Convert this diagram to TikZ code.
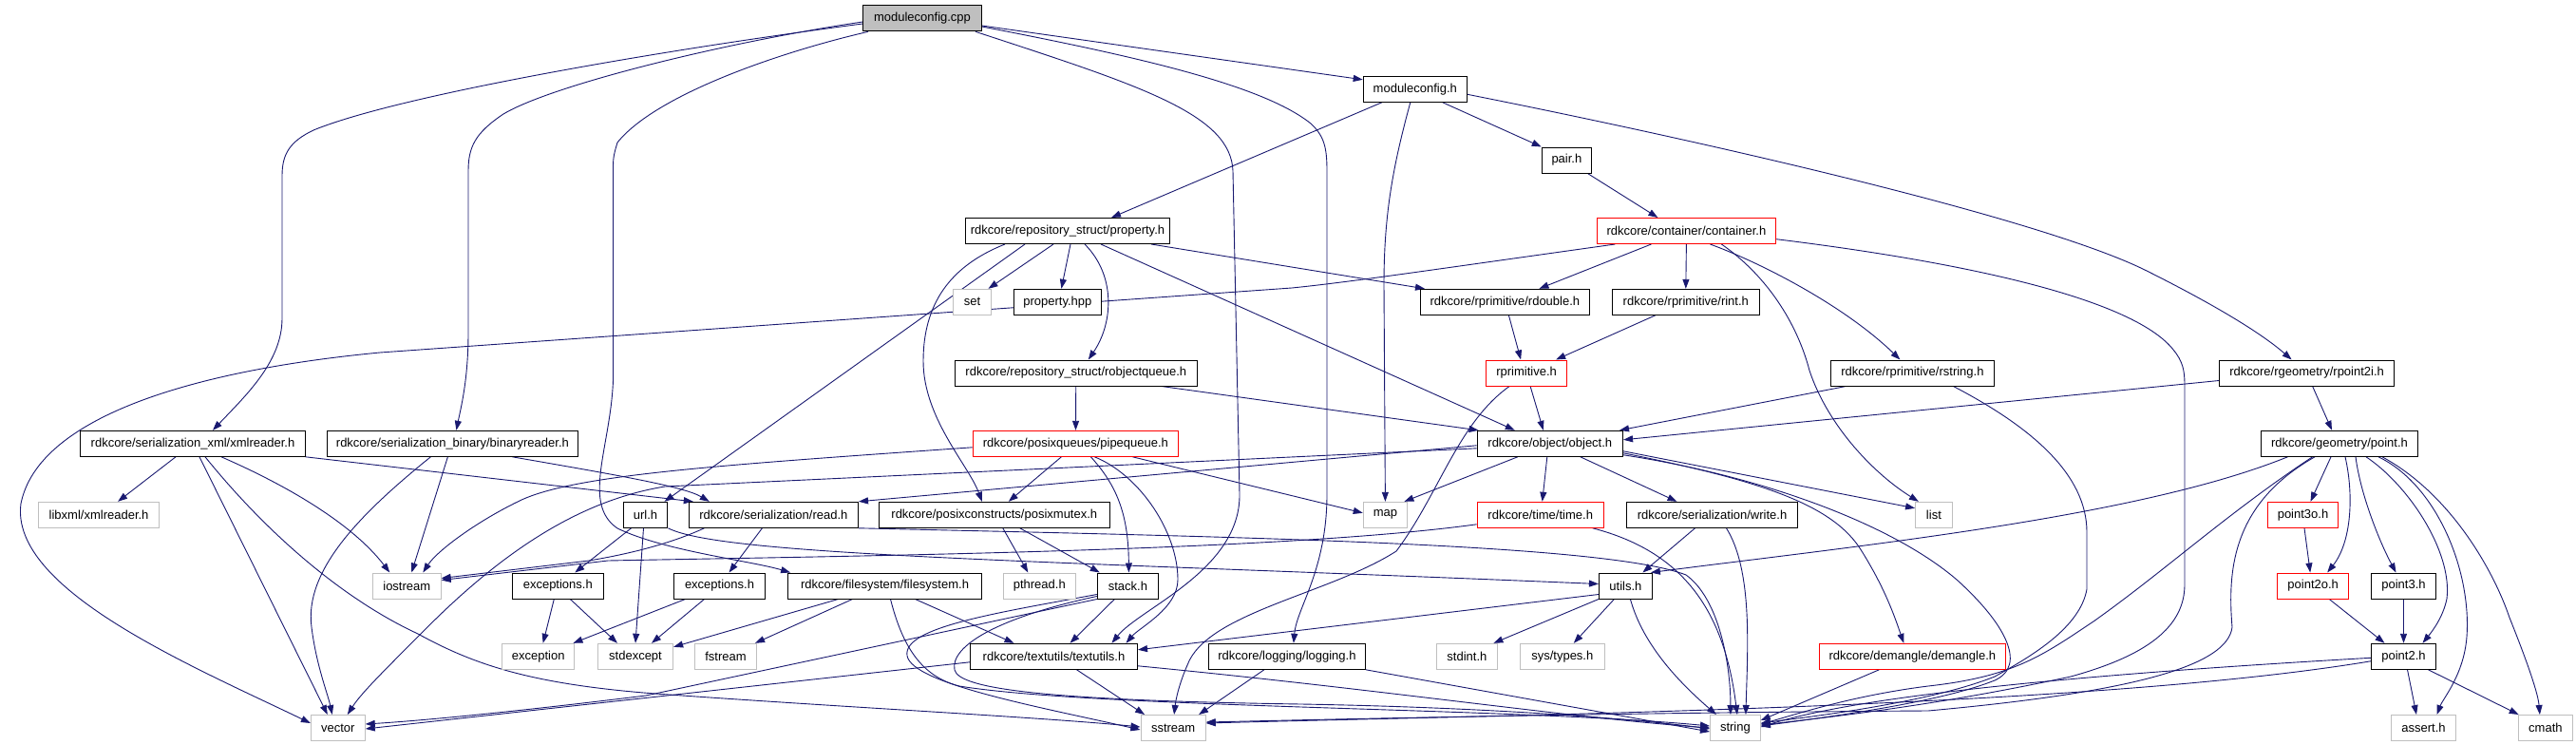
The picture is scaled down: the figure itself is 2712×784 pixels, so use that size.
\documentclass[tikz,border=0pt]{standalone}
\usepackage{fontspec}
\newfontfamily\nodefont{Liberation Sans}
\usetikzlibrary{arrows.meta}
\pgfdeclarelayer{background}
\pgfsetlayers{background,main}
\definecolor{edgec}{HTML}{191970}
\definecolor{grayc}{HTML}{BFBFBF}
\definecolor{redc}{HTML}{FF0000}
\tikzset{
  nd/.style={draw=black, fill=white, line width=1pt, minimum height=27pt, inner sep=0pt, font=\nodefont\fontsize{13}{15}\selectfont},
  gnd/.style={nd, draw=grayc},
  rnd/.style={nd, draw=redc},
  rootnd/.style={nd, fill=grayc},
  edg/.style={draw=edgec, line width=0.9pt, -{Triangle[length=10pt,width=7pt]}}
}
\begin{document}
\begin{tikzpicture}[x=1pt,y=-1pt]
\path[use as bounding box] (0,0) rectangle (2712,784);
% nodes
\node[rootnd, minimum width=124.6pt, minimum height=27.7pt] (mcpp) at (971,19) {moduleconfig.cpp};
\node[nd, minimum width=109.2pt] (mch) at (1489.8,93.8) {moduleconfig.h};
\node[nd, minimum width=52.3pt] (pair) at (1649.4,168.5) {pair.h};
\node[rnd, minimum width=188.4pt] (cont) at (1775.4,243) {rdkcore/container/container.h};
\node[nd, minimum width=214.8pt] (prop) at (1124,243) {rdkcore/repository\_struct/property.h};
\node[gnd, minimum width=40.1pt] (set) at (1023.5,317.8) {set};
\node[nd, minimum width=92.4pt] (phpp) at (1113.4,317.8) {property.hpp};
\node[nd, minimum width=254.4pt] (robjq) at (1132.8,392.5) {rdkcore/repository\_struct/robjectqueue.h};
\node[rnd, minimum width=216.5pt] (pq) at (1132.4,466.8) {rdkcore/posixqueues/pipequeue.h};
\node[nd, minimum width=177.8pt] (rdouble) at (1584.4,317.8) {rdkcore/rprimitive/rdouble.h};
\node[nd, minimum width=154.5pt] (rint) at (1774.8,317.8) {rdkcore/rprimitive/rint.h};
\node[rnd, minimum width=85pt] (rprim) at (1607.1,392.5) {rprimitive.h};
\node[nd, minimum width=172.4pt] (rstring) at (2013.4,392.5) {rdkcore/rprimitive/rstring.h};
\node[nd, minimum width=153.5pt] (object) at (1631.8,466.8) {rdkcore/object/object.h};
\node[nd, minimum width=183.9pt] (rp2i) at (2428.6,392.5) {rdkcore/rgeometry/rpoint2i.h};
\node[nd, minimum width=164.8pt] (point) at (2463,466.8) {rdkcore/geometry/point.h};
\node[nd, minimum width=236.3pt] (xmlr) at (203,466.8) {rdkcore/serialization\_xml/xmlreader.h};
\node[nd, minimum width=263.6pt] (binr) at (476.4,466.8) {rdkcore/serialization\_binary/binaryreader.h};
\node[gnd, minimum width=127.2pt] (libxml) at (104.1,541.8) {libxml/xmlreader.h};
\node[nd, minimum width=46.8pt] (url) at (679.5,541.8) {url.h};
\node[gnd, minimum width=71.7pt] (iostream) at (428.3,616.5) {iostream};
\node[nd, minimum width=95.5pt] (exc1) at (587.3,616.5) {exceptions.h};
\node[gnd, minimum width=76.5pt] (exception) at (566.7,690.8) {exception};
\node[gnd, minimum width=79.3pt] (stdexcept) at (669,690.8) {stdexcept};
\node[gnd, minimum width=56.8pt] (vector) at (355.8,766) {vector};
\node[nd, minimum width=178.2pt] (read) at (814.4,541.8) {rdkcore/serialization/read.h};
\node[nd, minimum width=243.4pt] (pmutex) at (1046.8,541.8) {rdkcore/posixconstructs/posixmutex.h};
\node[nd, minimum width=95.9pt] (exc2) at (757.5,616.5) {exceptions.h};
\node[nd, minimum width=203.8pt] (fs) at (931.5,616.5) {rdkcore/filesystem/filesystem.h};
\node[gnd, minimum width=76.2pt] (pthread) at (1094.3,616.5) {pthread.h};
\node[nd, minimum width=64.3pt] (stack) at (1187.4,616.5) {stack.h};
\node[gnd, minimum width=65.1pt] (fstream) at (764,690.8) {fstream};
\node[nd, minimum width=176pt] (tu) at (1109.5,690.8) {rdkcore/textutils/textutils.h};
\node[nd, minimum width=165.1pt] (log) at (1354.9,690.8) {rdkcore/logging/logging.h};
\node[gnd, minimum width=68.2pt] (sstream) at (1235.1,766) {sstream};
\node[gnd, minimum width=46.3pt] (map) at (1458.4,541.8) {map};
\node[rnd, minimum width=133.3pt] (time) at (1621.7,541.8) {rdkcore/time/time.h};
\node[nd, minimum width=180pt] (write) at (1802.5,541.8) {rdkcore/serialization/write.h};
\node[gnd, minimum width=38.7pt] (list) at (2035.9,541.8) {list};
\node[nd, minimum width=55.9pt] (utils) at (1711.4,616.5) {utils.h};
\node[gnd, minimum width=64.2pt] (stdint) at (1544.4,690.8) {stdint.h};
\node[gnd, minimum width=88.9pt] (systypes) at (1644.8,690.8) {sys/types.h};
\node[rnd, minimum width=196pt] (demangle) at (2013.3,690.8) {rdkcore/demangle/demangle.h};
\node[gnd, minimum width=52.8pt] (string) at (1826.9,766) {string};
\node[rnd, minimum width=74pt] (point3o) at (2424.5,541.8) {point3o.h};
\node[rnd, minimum width=75.3pt] (point2o) at (2435.2,616.5) {point2o.h};
\node[nd, minimum width=68.3pt] (point3) at (2530.5,616.5) {point3.h};
\node[nd, minimum width=68.3pt] (point2) at (2530.5,690.8) {point2.h};
\node[gnd, minimum width=67.9pt] (assert) at (2551.5,766) {assert.h};
\node[gnd, minimum width=57.5pt] (cmath) at (2679.9,766) {cmath};
% edges
\begin{pgfonlayer}{background}
\fill[white] (0,0) rectangle (2712,784);
% moduleconfig.cpp
\draw[edg] ([yshift=-8pt]mcpp.east) -- ([yshift=10pt]mch.west);
\draw[edg] ([yshift=-6pt]mcpp.west) .. controls (700,52) and (420,100) .. (330,137) .. controls (305,149) and (297,162) .. (297,185) -- (297,335) .. controls (297,380) and (260,415) .. ([xshift=21pt]xmlr.north);
\draw[edg] ([yshift=-4pt]mcpp.west) .. controls (760,45) and (580,90) .. (530,120) .. controls (500,140) and (493,155) .. (493,180) -- (493,350) .. controls (493,400) and (485,430) .. ([xshift=4pt]binr.north);
\draw[edg] ([xshift=-57pt]mcpp.south) .. controls (820,55) and (690,100) .. (650,150) .. controls (647,160) and (645.5,165) .. (645.5,175) -- (645.5,400) .. controls (643,470) and (612,530) .. (650,556) .. controls (700,580) and (790,590) .. ([xshift=3pt]fs.north west);
\draw[edg] ([xshift=56pt]mcpp.south) .. controls (1200,90) and (1296,120) .. (1298,180) -- (1305,520) .. controls (1306,600) and (1200,640) .. ([xshift=61pt]tu.north);
\draw[edg] ([yshift=-9pt]mcpp.east) .. controls (1200,60) and (1330,90) .. (1380,130) .. controls (1394,143) and (1397,155) .. (1397,180) -- (1397,520) .. controls (1397,600) and (1365,640) .. ([xshift=7pt]log.north);
% moduleconfig.h
\draw[edg] ([xshift=-35pt]mch.south) -- ([xshift=46pt]prop.north);
\draw[edg] ([xshift=-5pt]mch.south) .. controls (1465,180) and (1457,230) .. (1457,300) -- (map.north);
\draw[edg] ([xshift=29pt]mch.south) -- (pair.north west);
\draw[edg] ([yshift=-5.5pt]mch.east) .. controls (1800,150) and (2150,230) .. (2260,285) .. controls (2330,320) and (2380,350) .. ([xshift=-16pt]rp2i.north);
\draw[edg] ([xshift=22pt]pair.south) -- ([xshift=-30pt]cont.north);
% container
\draw[edg] ([xshift=-75pt]cont.south) .. controls (1500,285) and (1420,297) .. (1360,303) -- (400,371) .. controls (200,390) and (40,440) .. (22,530) .. controls (10,620) and (200,700) .. ([yshift=5pt]vector.west);
\draw[edg] ([xshift=-37pt]cont.south) -- ([xshift=36pt]rdouble.north);
\draw[edg] (cont.south) -- (rint.north);
\draw[edg] ([xshift=25pt]cont.south) .. controls (1850,275) and (1940,320) .. ([xshift=-13pt]rstring.north);
\draw[edg] ([xshift=37pt]cont.south) .. controls (1860,290) and (1892,340) .. (1905,390) .. controls (1925,450) and (1975,500) .. ([xshift=-16pt]list.north);
\draw[edg] ([yshift=-8.7pt]cont.east) .. controls (2100,280) and (2250,320) .. (2288,368) .. controls (2298,380) and (2300,390) .. (2300,405) -- (2300,615) .. controls (2300,660) and (2260,690) .. (2180,712) .. controls (2050,740) and (1950,752) .. ([yshift=3pt]string.east);
% property.h
\draw[edg] ([xshift=-15pt]prop.south) -- ([xshift=17pt]set.north);
\draw[edg] ([xshift=3pt]prop.south) -- ([xshift=4pt]phpp.north);
\draw[edg] ([xshift=18pt]prop.south) .. controls (1175,290) and (1172,340) .. ([xshift=13pt]robjq.north);
\draw[edg] ([xshift=-45pt]prop.south) -- ([xshift=20pt]url.north);
\draw[edg] ([xshift=-66pt]prop.south) .. controls (1000,280) and (972,320) .. (972,380) .. controls (972,440) and (1020,490) .. ([xshift=-13pt]pmutex.north);
\draw[edg] ([xshift=35pt]prop.south) -- ([xshift=-37pt]object.north);
\draw[edg] ([xshift=88pt]prop.south) -- ([xshift=5pt]rdouble.north west);
% robjectqueue, pipequeue
\draw[edg] (robjq) -- (pq);
\draw[edg] ([xshift=90pt]robjq.south) -- ([xshift=2pt]object.north west);
\draw[edg] ([xshift=-15pt]pq.south) -- ([xshift=15pt]pmutex.north);
\draw[edg] ([xshift=16pt]pq.south) .. controls (1175,510) and (1188,540) .. ([xshift=1pt]stack.north);
\draw[edg] ([xshift=20pt]pq.south) .. controls (1200,500) and (1240,560) .. (1240,610) .. controls (1240,640) and (1200,660) .. ([xshift=76pt]tu.north);
\draw[edg] ([xshift=60pt]pq.south) -- ([yshift=2pt]map.west);
\draw[edg] ([yshift=-4pt]pq.west) .. controls (750,490) and (600,500) .. (545,528) .. controls (500,550) and (460,580) .. ([xshift=17pt]iostream.north);
% rprimitive
\draw[edg] ([xshift=4pt]rdouble.south) -- ([xshift=-6pt]rprim.north);
\draw[edg] ([xshift=-32pt]rint.south) -- ([xshift=31pt]rprim.north);
\draw[edg] ([xshift=4pt]rprim.south) -- ([xshift=-7pt]object.north);
\draw[edg] ([xshift=-18pt]rprim.south) .. controls (1535,445) and (1515,520) .. (1470,580) .. controls (1400,625) and (1270,645) .. (1250,700) .. controls (1242,718) and (1238,735) .. ([xshift=1pt]sstream.north);
\draw[edg] ([xshift=-70pt]rstring.south) -- ([xshift=-4pt]object.north east);
\draw[edg] ([xshift=43pt]rstring.south) .. controls (2140,450) and (2197,500) .. (2197,560) -- (2197,620) .. controls (2190,660) and (2140,690) .. (2100,712) .. controls (2030,740) and (1900,755) .. ([yshift=5pt]string.east);
\draw[edg] ([yshift=-8pt]rp2i.west) -- ([yshift=4pt]object.east);
\draw[edg] ([xshift=6pt]rp2i.south) -- ([xshift=-8pt]point.north);
% object.h
\draw[edg] ([xshift=-34pt]object.south) -- ([xshift=20pt]map.north);
\draw[edg] ([xshift=-3pt]object.south) -- ([xshift=2pt]time.north);
\draw[edg] ([xshift=32pt]object.south) -- ([xshift=-37pt]write.north);
\draw[edg] ([yshift=-8pt]object.east) -- ([yshift=7pt]list.west);
\draw[edg] ([yshift=-10pt]object.east) .. controls (1850,505) and (1930,530) .. (1960,580) .. controls (1985,620) and (1995,650) .. ([xshift=-9pt]demangle.north);
\draw[edg] ([yshift=-12pt]object.east) .. controls (1850,500) and (1990,550) .. (2060,610) .. controls (2110,655) and (2135,700) .. (2100,716) .. controls (2040,740) and (1920,755) .. ([yshift=2pt]string.east);
\draw[edg] ([yshift=-2pt]object.west) -- (read.north east);
\draw[edg] ([yshift=-5pt]object.west) -- (700,512) .. controls (620,525) and (540,570) .. (450,660) .. controls (400,710) and (380,730) .. ([xshift=10pt]vector.north);
% xmlreader, binaryreader
\draw[edg] ([xshift=-18pt]xmlr.south) -- ([xshift=20pt]libxml.north);
\draw[edg] ([xshift=7pt]xmlr.south) -- ([xshift=-11pt]vector.north);
\draw[edg] ([xshift=13pt]xmlr.south) .. controls (280,560) and (360,630) .. (440,667) .. controls (500,700) and (560,720) .. (690,730) .. controls (900,745) and (1100,755) .. ([yshift=1pt]sstream.west);
\draw[edg] ([xshift=30pt]xmlr.south) .. controls (300,510) and (370,550) .. ([xshift=-18pt]iostream.north);
\draw[edg] (xmlr.south east) -- ([xshift=5pt]read.north west);
\draw[edg] ([xshift=-23pt]binr.south) .. controls (380,540) and (320,600) .. (328,660) .. controls (333,700) and (345,730) .. ([xshift=-6pt]vector.north);
\draw[edg] ([xshift=-5pt]binr.south) -- ([xshift=5pt]iostream.north);
\draw[edg] ([xshift=63pt]binr.south) .. controls (650,500) and (720,512) .. ([xshift=22pt]read.north west);
% read.h
\draw[edg] ([xshift=-73pt]read.south) .. controls (700,575) and (650,585) .. (620,590) -- ([yshift=8pt]iostream.east);
\draw[edg] ([xshift=-12pt]read.south) -- ([xshift=10pt]exc2.north);
\draw[edg] (read.south east) .. controls (1300,565) and (1690,572) .. (1775,605) .. controls (1810,630) and (1822,700) .. ([xshift=-5pt]string.north);
% url.h
\draw[edg] ([xshift=-15pt]url.south) -- ([xshift=18pt]exc1.north);
\draw[edg] ([xshift=-2pt]url.south) -- (stdexcept.north);
\draw[edg] (url.south east) .. controls (760,585) and (1100,590) .. ([yshift=2pt]utils.west);
% exceptions
\draw[edg] ([xshift=-4pt]exc1.south) -- ([xshift=5pt]exception.north);
\draw[edg] ([xshift=13pt]exc1.south) -- ([xshift=-19pt]stdexcept.north);
\draw[edg] ([xshift=-36pt]exc2.south) -- ([xshift=-2pt]exception.north east);
\draw[edg] ([xshift=-16pt]exc2.south) -- ([xshift=17pt]stdexcept.north);
% filesystem.h
\draw[edg] ([xshift=-49pt]fs.south) -- ([yshift=10pt]stdexcept.east);
\draw[edg] ([xshift=-34pt]fs.south) -- ([xshift=-2pt]fstream.north east);
\draw[edg] ([xshift=32pt]fs.south) -- ([xshift=-42pt]tu.north);
\draw[edg] ([xshift=6pt]fs.south) .. controls (950,680) and (970,712) .. (1010,722) .. controls (1150,745) and (1600,745) .. ([yshift=2pt]string.west);
% posixmutex, stack
\draw[edg] ([xshift=9pt]pmutex.south) -- ([xshift=-12pt]pthread.north);
\draw[edg] ([xshift=27pt]pmutex.south) -- ([xshift=3pt]stack.north west);
\draw[edg] ([xshift=-14pt]stack.south) -- ([xshift=17pt]tu.north);
\draw[edg] (stack.south west) -- (680,732) .. controls (550,748) and (450,758) .. ([yshift=4pt]vector.east);
\draw[edg] ([yshift=-9pt]stack.west) .. controls (1050,645) and (950,660) .. (955,690) .. controls (960,720) and (1100,745) .. ([yshift=-2pt]sstream.west);
\draw[edg] ([yshift=-11pt]stack.west) .. controls (1050,650) and (1000,680) .. (1005,705) .. controls (1010,725) and (1100,737) .. (1370,741) .. controls (1600,745) and (1750,760) .. ([yshift=-1pt]string.west);
% textutils, logging
\draw[edg] ([yshift=-6pt]tu.west) -- ([yshift=-1pt]vector.east);
\draw[edg] ([xshift=24pt]tu.south) -- ([xshift=-30pt]sstream.north);
\draw[edg] ([yshift=-10pt]tu.east) .. controls (1450,725) and (1650,755) .. (string.west);
\draw[edg] ([xshift=-24pt]log.south) -- ([xshift=27pt]sstream.north);
\draw[edg] (log.south east) -- ([yshift=-4pt]string.west);
% time, write
\draw[edg] ([yshift=-10pt]time.west) .. controls (1350,580) and (900,585) .. (640,590) -- ([yshift=6pt]iostream.east);
\draw[edg] ([xshift=55pt]time.south) .. controls (1770,580) and (1815,640) .. ([xshift=2pt]string.north);
\draw[edg] ([xshift=-18pt]write.south) -- ([xshift=18pt]utils.north);
\draw[edg] ([xshift=15pt]write.south) .. controls (1845,600) and (1840,680) .. ([xshift=11pt]string.north);
% utils
\draw[edg] (utils.south west) -- ([xshift=28pt]stdint.north);
\draw[edg] ([xshift=-12pt]utils.south) -- ([xshift=12pt]systypes.north);
\draw[edg] ([xshift=5pt]utils.south) .. controls (1730,680) and (1770,720) .. ([xshift=-20pt]string.north);
\draw[edg] ([yshift=-9pt]utils.west) -- ([yshift=7pt]tu.east);
\draw[edg] ([xshift=-35pt]demangle.south) -- ([yshift=8pt]string.east);
% point.h
\draw[edg] ([xshift=-54.6pt]point.south) .. controls (2250,545) and (1950,575) .. ([xshift=-2pt]utils.north east);
\draw[edg] ([xshift=-9pt]point.south) -- ([xshift=8pt]point3o.north);
\draw[edg] ([xshift=6pt]point.south) .. controls (2478,520) and (2476,570) .. ([xshift=15pt]point2o.north);
\draw[edg] ([xshift=17pt]point.south) .. controls (2485,520) and (2505,570) .. ([xshift=-8pt]point3.north);
\draw[edg] ([xshift=28pt]point.south) .. controls (2535,510) and (2582,580) .. (2576,630) .. controls (2572,650) and (2560,665) .. ([xshift=20pt]point2.north);
\draw[edg] ([xshift=41pt]point.south) .. controls (2565,510) and (2602,600) .. (2597,670) .. controls (2594,710) and (2572,735) .. ([xshift=14pt]assert.north);
\draw[edg] ([xshift=45pt]point.south) .. controls (2580,520) and (2625,600) .. (2642,650) .. controls (2662,700) and (2672,730) .. ([xshift=-6pt]cmath.north);
\draw[edg] ([xshift=-28.5pt]point.south) .. controls (2345,540) and (2280,600) .. (2204,654) .. controls (2150,690) and (2120,712) .. (2030,722) .. controls (1950,732) and (1890,752) .. ([yshift=4pt]string.east);
\draw[edg] ([xshift=-26pt]point.south) .. controls (2350,530) and (2345,600) .. (2350,660) .. controls (2345,700) and (2250,728) .. (2030,748) .. controls (1700,750) and (1400,757) .. ([yshift=6pt]sstream.east);
% points
\draw[edg] ([xshift=1.5pt]point3o.south) -- ([xshift=-3pt]point2o.north);
\draw[edg] ([xshift=17pt]point2o.south) -- ([xshift=-20pt]point2.north);
\draw[edg] (point3) -- (point2);
\draw[edg] ([xshift=4pt]point2.south) -- ([xshift=-7.5pt]assert.north);
\draw[edg] ([xshift=26pt]point2.south) -- ([xshift=1pt]cmath.north west);
\draw[edg] ([yshift=-1.5pt]point2.west) .. controls (2150,712) and (1950,735) .. ([yshift=1pt]string.east);
\draw[edg] ([yshift=-5pt]point2.west) .. controls (2200,745) and (1600,752) .. ([yshift=5pt]sstream.east);
\end{pgfonlayer}
\end{tikzpicture}
\end{document}
